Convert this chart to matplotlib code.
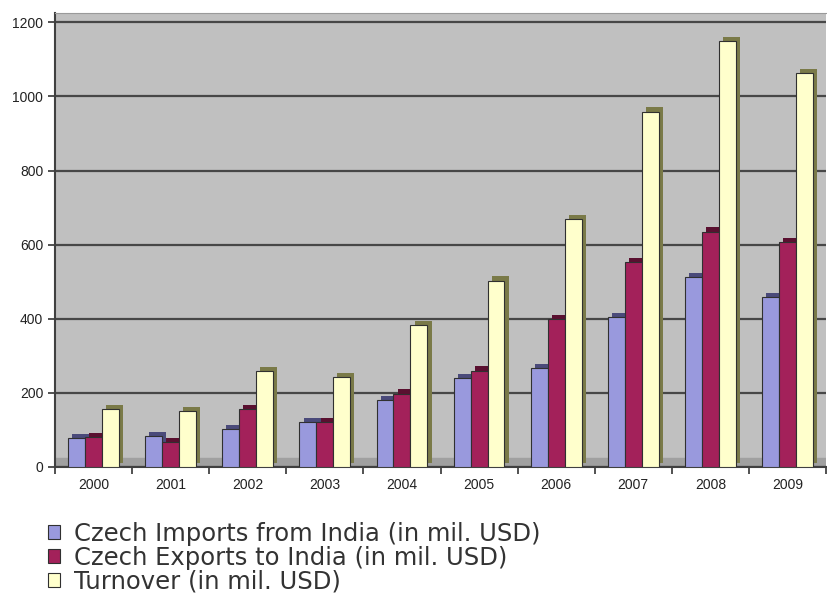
import numpy as np
import matplotlib
matplotlib.use("Agg")
import matplotlib.pyplot as plt
import matplotlib.patheffects as pe
from matplotlib.patches import Patch

plt.rcParams["font.family"] = ["Liberation Sans", "DejaVu Sans"]

# ============================================================
# DATA (mil. USD)
# ============================================================

years = ["2000", "2001", "2002", "2003", "2004", "2005", "2006", "2007", "2008", "2009"]
imports = [78, 84, 103, 122, 180, 240, 266, 405, 513, 459]
exports = [80, 68, 157, 122, 198, 260, 400, 554, 635, 606]
turnover = [157, 152, 259, 243, 384, 503, 668, 959, 1150, 1063]

series = [
    ("Czech Imports from India (in mil. USD)", imports, "#9999dd", "#4a4a7a"),
    ("Czech Exports to India (in mil. USD)", exports, "#a3215a", "#5a1030"),
    ("Turnover (in mil. USD)", turnover, "#ffffcc", "#7a7a48"),
]

# ============================================================
# PLOT
# ============================================================

fig = plt.figure(figsize=(8.28, 6.05), dpi=100)
ax = fig.add_axes([55 / 828, 1 - 467 / 605, 771 / 828, 454 / 605])
ax.set_facecolor("#c0c0c0")

x = np.arange(len(years))
width = 0.22

# floor strip
ax.axhspan(0, 24, color="#a0a0a0", zorder=0.5)

handles = []
for i, (label, vals, face, side) in enumerate(series):
    bars = ax.bar(x + (i - 1) * width, vals, width, color=face,
                  edgecolor="#303030", linewidth=0.8, zorder=3)
    for b in bars:
        b.set_path_effects([
            pe.SimplePatchShadow(offset=(3, 3), shadow_rgbFace=side, alpha=1.0),
            pe.Normal(),
        ])
    handles.append(Patch(facecolor=face, edgecolor="#303030", linewidth=0.8, label=label))

ax.set_xlim(-0.5, len(years) - 0.5)
ax.set_ylim(0, 1225)

ax.set_yticks(np.arange(0, 1201, 200))
ax.yaxis.grid(True, color="#474747", linewidth=1.6)
ax.set_axisbelow(True)

# category boundaries as major ticks, labels at centres
ax.set_xticks(np.arange(-0.5, len(years), 1))
ax.set_xticklabels([])
ax.set_xticks(x, minor=True)
ax.set_xticklabels(years, minor=True)
ax.tick_params(axis="x", which="minor", length=0, labelsize=10, pad=8, colors="#222222")
ax.tick_params(axis="x", which="major", length=5, width=1.2, color="#333333")
ax.tick_params(axis="y", length=5, width=1.2, labelsize=10, color="#333333", labelcolor="#222222")

ax.spines["top"].set_color("#9a9a9a")
ax.spines["top"].set_linewidth(0.8)
ax.spines["right"].set_visible(False)
ax.spines["left"].set_color("#404040")
ax.spines["left"].set_linewidth(1.5)
ax.spines["bottom"].set_color("#404040")
ax.spines["bottom"].set_linewidth(1.5)

fig.legend(handles=handles, loc="upper left", bbox_to_anchor=(38 / 828, 1 - 512 / 605),
           frameon=False, prop={"family": "DejaVu Sans", "size": 17.5},
           handlelength=0.5, handleheight=0.5, labelspacing=0.0,
           handletextpad=0.6, borderaxespad=0, labelcolor="#333333")

fig.savefig("out.png", dpi=100)
